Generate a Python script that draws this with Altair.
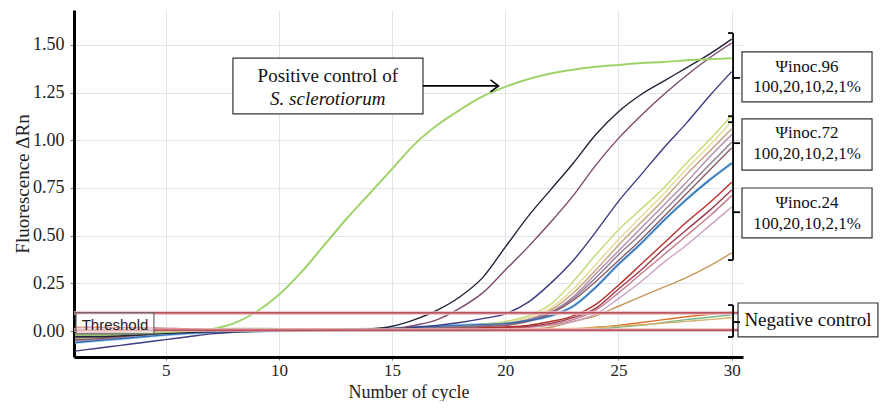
import altair as alt
import pandas as pd

# ---------------- data ----------------
cycles = list(range(1, 31))

positive_control = [-0.02, -0.02, -0.015, -0.01, -0.005, 0.0, 0.01, 0.04, 0.10, 0.19,
                    0.31, 0.45, 0.59, 0.72, 0.85, 0.98, 1.08, 1.16, 1.23, 1.28,
                    1.32, 1.35, 1.37, 1.385, 1.395, 1.405, 1.41, 1.42, 1.425, 1.43]

inoc96_a = [-0.03, -0.03, -0.025, -0.02, -0.012, -0.006, -0.002, 0.0, 0.0, 0.002,
            0.003, 0.005, 0.006, 0.01, 0.025, 0.06, 0.11, 0.18, 0.28, 0.44,
            0.60, 0.74, 0.88, 1.03, 1.15, 1.24, 1.31, 1.38, 1.45, 1.53]
inoc96_b = [-0.02, -0.02, -0.018, -0.014, -0.01, -0.006, -0.003, 0.0, 0.0, 0.0,
            0.002, 0.003, 0.004, 0.006, 0.01, 0.03, 0.06, 0.12, 0.20, 0.32,
            0.44, 0.57, 0.71, 0.87, 1.01, 1.13, 1.24, 1.34, 1.43, 1.51]
inoc96_c = [-0.105, -0.09, -0.075, -0.06, -0.045, -0.03, -0.015, -0.006, -0.002, 0.0,
            0.002, 0.004, 0.006, 0.008, 0.012, 0.02, 0.03, 0.045, 0.065, 0.09,
            0.15, 0.25, 0.37, 0.52, 0.68, 0.82, 0.96, 1.09, 1.23, 1.36]

inoc72_a = [-0.04, -0.035, -0.03, -0.02, -0.01, 0.0, 0.005, 0.008, 0.01, 0.01,
            0.01, 0.01, 0.012, 0.012, 0.014, 0.016, 0.02, 0.025, 0.035, 0.05,
            0.08, 0.14, 0.26, 0.40, 0.53, 0.64, 0.75, 0.88, 1.00, 1.13]
inoc72_b = [-0.03, -0.028, -0.022, -0.015, -0.005, 0.005, 0.01, 0.012, 0.012, 0.012,
            0.012, 0.012, 0.012, 0.013, 0.014, 0.016, 0.02, 0.025, 0.03, 0.04,
            0.07, 0.12, 0.22, 0.35, 0.48, 0.60, 0.72, 0.85, 0.97, 1.10]
inoc72_c = [-0.02, -0.02, -0.015, -0.01, 0.0, 0.008, 0.012, 0.014, 0.014, 0.013,
            0.012, 0.012, 0.012, 0.013, 0.014, 0.016, 0.02, 0.024, 0.03, 0.04,
            0.06, 0.11, 0.20, 0.32, 0.45, 0.57, 0.69, 0.82, 0.94, 1.06]
inoc72_d = [-0.05, -0.045, -0.035, -0.02, -0.008, 0.0, 0.004, 0.006, 0.008, 0.008,
            0.008, 0.009, 0.01, 0.011, 0.012, 0.014, 0.018, 0.022, 0.028, 0.035,
            0.06, 0.10, 0.18, 0.30, 0.42, 0.54, 0.66, 0.78, 0.91, 1.03]
inoc72_e = [-0.035, -0.03, -0.025, -0.015, -0.006, 0.002, 0.006, 0.008, 0.008, 0.008,
            0.008, 0.008, 0.009, 0.01, 0.011, 0.013, 0.016, 0.02, 0.025, 0.03,
            0.055, 0.095, 0.17, 0.28, 0.40, 0.51, 0.63, 0.75, 0.87, 0.99]
inoc72_f = [-0.045, -0.04, -0.03, -0.018, -0.008, 0.0, 0.004, 0.006, 0.006, 0.006,
            0.006, 0.007, 0.008, 0.009, 0.01, 0.012, 0.015, 0.019, 0.024, 0.03,
            0.05, 0.09, 0.16, 0.26, 0.37, 0.48, 0.60, 0.72, 0.84, 0.96]
inoc72_g = [-0.06, -0.05, -0.04, -0.03, -0.02, -0.012, -0.006, -0.002, 0.0, 0.002,
            0.004, 0.006, 0.008, 0.01, 0.014, 0.02, 0.025, 0.03, 0.035, 0.04,
            0.055, 0.08, 0.13, 0.23, 0.35, 0.46, 0.58, 0.69, 0.79, 0.88]

inoc24_a = [0.02, 0.02, 0.018, 0.016, 0.014, 0.012, 0.012, 0.012, 0.012, 0.012,
            0.012, 0.01, 0.01, 0.01, 0.01, 0.01, 0.012, 0.014, 0.018, 0.022,
            0.03, 0.05, 0.08, 0.14, 0.24, 0.35, 0.46, 0.57, 0.67, 0.78]
inoc24_b = [0.01, 0.01, 0.01, 0.01, 0.01, 0.008, 0.008, 0.008, 0.006, 0.006,
            0.006, 0.006, 0.006, 0.006, 0.007, 0.008, 0.01, 0.012, 0.015, 0.02,
            0.025, 0.04, 0.07, 0.12, 0.22, 0.32, 0.43, 0.53, 0.63, 0.74]
inoc24_c = [-0.01, -0.008, -0.005, 0.0, 0.004, 0.006, 0.006, 0.006, 0.006, 0.006,
            0.005, 0.005, 0.005, 0.005, 0.006, 0.007, 0.008, 0.01, 0.013, 0.016,
            0.02, 0.035, 0.06, 0.11, 0.20, 0.30, 0.40, 0.50, 0.60, 0.71]
inoc24_d = [-0.02, -0.018, -0.012, -0.006, 0.0, 0.003, 0.004, 0.004, 0.004, 0.004,
            0.004, 0.004, 0.004, 0.005, 0.005, 0.006, 0.007, 0.009, 0.012, 0.015,
            0.02, 0.03, 0.05, 0.09, 0.17, 0.26, 0.36, 0.45, 0.55, 0.65]
inoc24_e = [0.0, 0.0, 0.0, 0.002, 0.004, 0.004, 0.004, 0.004, 0.004, 0.004,
            0.004, 0.003, 0.003, 0.003, 0.003, 0.003, 0.003, 0.003, 0.004, 0.005,
            0.01, 0.02, 0.05, 0.08, 0.13, 0.18, 0.23, 0.28, 0.34, 0.41]

negative_a = [0.0, 0.0, 0.002, 0.004, 0.006, 0.008, 0.008, 0.008, 0.006, 0.006,
              0.005, 0.005, 0.005, 0.004, 0.004, 0.004, 0.004, 0.004, 0.004, 0.004,
              0.004, 0.005, 0.01, 0.02, 0.03, 0.045, 0.06, 0.075, 0.088, 0.10]
negative_b = [-0.015, -0.012, -0.008, -0.004, 0.0, 0.002, 0.002, 0.002, 0.002, 0.002,
              0.002, 0.002, 0.002, 0.002, 0.002, 0.002, 0.002, 0.002, 0.002, 0.003,
              0.004, 0.005, 0.007, 0.01, 0.02, 0.03, 0.045, 0.06, 0.072, 0.085]
negative_c = [0.015, 0.015, 0.014, 0.013, 0.012, 0.012, 0.011, 0.01, 0.01, 0.01,
              0.01, 0.01, 0.01, 0.01, 0.01, 0.01, 0.01, 0.01, 0.01, 0.01,
              0.011, 0.012, 0.014, 0.018, 0.025, 0.033, 0.042, 0.051, 0.06, 0.07]
negative_d = [0.005, 0.005, 0.006, 0.006, 0.007, 0.007, 0.007, 0.007, 0.007, 0.006,
              0.006, 0.006, 0.006, 0.006, 0.006, 0.006, 0.006, 0.006, 0.006, 0.006,
              0.006, 0.006, 0.006, 0.006, 0.006, 0.006, 0.006, 0.006, 0.006, 0.006]

series_names = ["inoc24_e", "negative_a", "negative_b", "negative_c", "negative_d",
                "inoc24_d", "inoc24_c", "inoc24_b", "inoc24_a",
                "inoc72_a", "inoc72_b", "inoc72_c", "inoc72_d", "inoc72_e", "inoc72_f",
                "inoc72_g", "inoc96_c", "inoc96_b", "inoc96_a"]
series_values = [inoc24_e, negative_a, negative_b, negative_c, negative_d,
                 inoc24_d, inoc24_c, inoc24_b, inoc24_a,
                 inoc72_a, inoc72_b, inoc72_c, inoc72_d, inoc72_e, inoc72_f,
                 inoc72_g, inoc96_c, inoc96_b, inoc96_a]
series_colors = ["#c9975a", "#e0702e", "#72b98a", "#d4b26e", "#c8321e",
                 "#c9a2c4", "#c67b8c", "#9c3a4c", "#b3302a",
                 "#c5da74", "#e4dc94", "#c2a27a", "#b48ca8", "#8e7a92", "#8a5e68",
                 "#2f6db5", "#3b3b80", "#7b4a6d", "#222238"]

threshold_values = [0.095, 0.005]

# annotation layout in data units (cycle, fluorescence)
box_names = ["pos", "i96", "i72", "i24", "neg", "thr"]
box_x1 = [7.97, 30.455, 30.455, 30.455, 30.28, 1.04]
box_x2 = [16.365, 36.20, 36.20, 36.20, 36.46, 4.48]
box_y1 = [1.431, 1.463, 1.112, 0.750, 0.147, 0.095]
box_y2 = [1.138, 1.201, 0.844, 0.488, -0.031, -0.015]

label_text = ["Positive control of", "Ψinoc.96", "100,20,10,2,1%", "Ψinoc.72",
              "100,20,10,2,1%", "Ψinoc.24", "100,20,10,2,1%", "Negative control"]
label_x = [12.16, 33.33, 33.33, 33.33, 33.33, 33.33, 33.33, 33.37]
label_y = [1.336, 1.384, 1.279, 1.038, 0.927, 0.671, 0.561, 0.058]
label_size = [19, 17, 17, 17, 17, 17, 17, 19]

italic_text = ["S. sclerotiorum"]
italic_x = [12.16]
italic_y = [1.216]

thr_text = ["Threshold"]
thr_x = [2.76]
thr_y = [0.031]

# bracket segments + arrow shaft
seg_x1 = [30.06, 29.84, 29.84, 30.06,
          30.06, 29.84, 29.84, 30.06, 30.06,
          30.06, 29.84, 29.84, 30.06,
          16.365]
seg_x2 = [30.06, 30.06, 30.06, 30.37,
          30.06, 30.06, 30.06, 30.37, 30.37,
          30.06, 30.06, 30.06, 30.37,
          19.70]
seg_y1 = [1.562, 1.562, 1.095, 1.327,
          1.126, 1.126, 0.372, 0.985, 0.623,
          0.136, 0.136, -0.031, 0.047,
          1.285]
seg_y2 = [1.095, 1.562, 1.095, 1.327,
          0.372, 1.126, 0.372, 0.985, 0.623,
          -0.031, 0.136, -0.031, 0.047,
          1.285]

arrow_x = [19.70]
arrow_y = [1.285]

# ---------------- tables ----------------
rows = []
for name, vals in zip(series_names, series_values):
    for c, v in zip(cycles, vals):
        rows.append({"series": name, "cycle": c, "value": v})
df_lines = pd.DataFrame(rows)
df_pos = pd.DataFrame({"cycle": cycles, "value": positive_control})
df_blue = df_lines[df_lines["series"] == "inoc72_g"]
df_thr = pd.DataFrame({"value": threshold_values})
df_box = pd.DataFrame({"name": box_names, "cycle": box_x1, "cycle2": box_x2,
                       "value": box_y1, "value2": box_y2})
df_lab = pd.DataFrame({"text": label_text, "cycle": label_x, "value": label_y,
                       "size": label_size})
df_ital = pd.DataFrame({"text": italic_text, "cycle": italic_x, "value": italic_y})
df_thrtxt = pd.DataFrame({"text": thr_text, "cycle": thr_x, "value": thr_y})
df_seg = pd.DataFrame({"cycle": seg_x1, "cycle2": seg_x2, "value": seg_y1, "value2": seg_y2})
df_arrow = pd.DataFrame({"cycle": arrow_x, "value": arrow_y})

# ---------------- scales / axes ----------------
xs = alt.Scale(domain=[0.95, 30.5], nice=False, zero=False)
ys = alt.Scale(domain=[-0.136, 1.683], nice=False, zero=False)

x_axis = alt.Axis(values=[5, 10, 15, 20, 25, 30], title="Number of cycle",
                  grid=True, gridColor="#e2e4ec", gridWidth=1,
                  domainColor="#000000", domainWidth=3,
                  tickColor="#777777", tickSize=3, labelPadding=2,
                  labelFont="Liberation Serif", labelFontSize=17, labelColor="#222222",
                  titleFont="Liberation Serif", titleFontSize=18, titleFontWeight="normal",
                  titleColor="#222222", titleBaseline="alphabetic", titleY=40)
y_axis = alt.Axis(values=[0, 0.25, 0.5, 0.75, 1.0, 1.25, 1.5], format=".2f",
                  title="Fluorescence ΔRn",
                  grid=True, gridColor="#e2e4ec", gridWidth=1,
                  domainColor="#000000", domainWidth=3,
                  tickColor="#777777", tickSize=4, labelPadding=6,
                  labelFont="Liberation Serif", labelFontSize=18, labelColor="#222222",
                  titleFont="Liberation Serif", titleFontSize=19, titleFontWeight="normal",
                  titleColor="#222222", titleBaseline="alphabetic", titleX=-46, titleY=173.5)


def X():
    return alt.X("cycle:Q", scale=xs, axis=x_axis)


def Y():
    return alt.Y("value:Q", scale=ys, axis=y_axis)


halo = alt.Chart(df_blue).mark_line(strokeWidth=3, color="#a9d3ec", interpolate="monotone").encode(
    x=X(), y=Y(), order="cycle:Q")

lines = alt.Chart(df_lines).mark_line(strokeWidth=1.4, interpolate="monotone").encode(
    x=X(), y=Y(),
    color=alt.Color("series:N", scale=alt.Scale(domain=series_names, range=series_colors), legend=None),
    detail="series:N",
    order="cycle:Q")

pos = alt.Chart(df_pos).mark_line(strokeWidth=2, color="#9fd36a", interpolate="monotone").encode(
    x=X(), y=Y(), order="cycle:Q")

thr_wide = alt.Chart(df_thr).mark_rule(strokeWidth=3.5, color="#ecb8be").encode(
    y=Y(), x=alt.value(0), x2=alt.value(669))
thr_thin = alt.Chart(df_thr).mark_rule(strokeWidth=1.3, color="#a8323e").encode(
    y=Y(), x=alt.value(0), x2=alt.value(669))

boxes_main = alt.Chart(df_box[df_box["name"] != "thr"]).mark_rect(
    fill="#ffffff", stroke="#333333", strokeWidth=1.2).encode(
    x=X(), x2="cycle2:Q", y=Y(), y2="value2:Q")
box_thr = alt.Chart(df_box[df_box["name"] == "thr"]).mark_rect(
    fill="#ffffff", fillOpacity=0.55, stroke="#666666", strokeWidth=1.2).encode(
    x=X(), x2="cycle2:Q", y=Y(), y2="value2:Q")

labels = alt.Chart(df_lab).mark_text(font="Liberation Serif", color="#111111",
                                     align="center", baseline="middle").encode(
    x=X(), y=Y(), text="text:N", size=alt.Size("size:Q", scale=None, legend=None))
ital = alt.Chart(df_ital).mark_text(font="Liberation Serif", fontStyle="italic", fontSize=19,
                                    color="#111111", align="center", baseline="middle").encode(
    x=X(), y=Y(), text="text:N")
thr_label = alt.Chart(df_thrtxt).mark_text(font="Liberation Sans", fontSize=15, color="#222222",
                                           align="center", baseline="middle").encode(
    x=X(), y=Y(), text="text:N")

segs = alt.Chart(df_seg).mark_rule(strokeWidth=1.8, color="#000000").encode(
    x=X(), x2="cycle2:Q", y=Y(), y2="value2:Q")
arrow_head = alt.Chart(df_arrow).mark_point(
    shape="M -1 -0.75 L 0 0 L -1 0.75", filled=False, stroke="#000000",
    strokeWidth=1.6, size=256, opacity=1).encode(x=X(), y=Y())

chart = alt.layer(
    halo, lines, pos, thr_wide, thr_thin, box_thr, thr_label,
    boxes_main, labels, ital, segs, arrow_head
).properties(
    width=669, height=347,
    autosize=alt.AutoSizeParams(type="none"),
    padding={"left": 66, "top": 2, "right": 136, "bottom": 44},
).configure_view(strokeWidth=0)

chart.save("out.html", embed_options={"renderer": "svg", "actions": False})
